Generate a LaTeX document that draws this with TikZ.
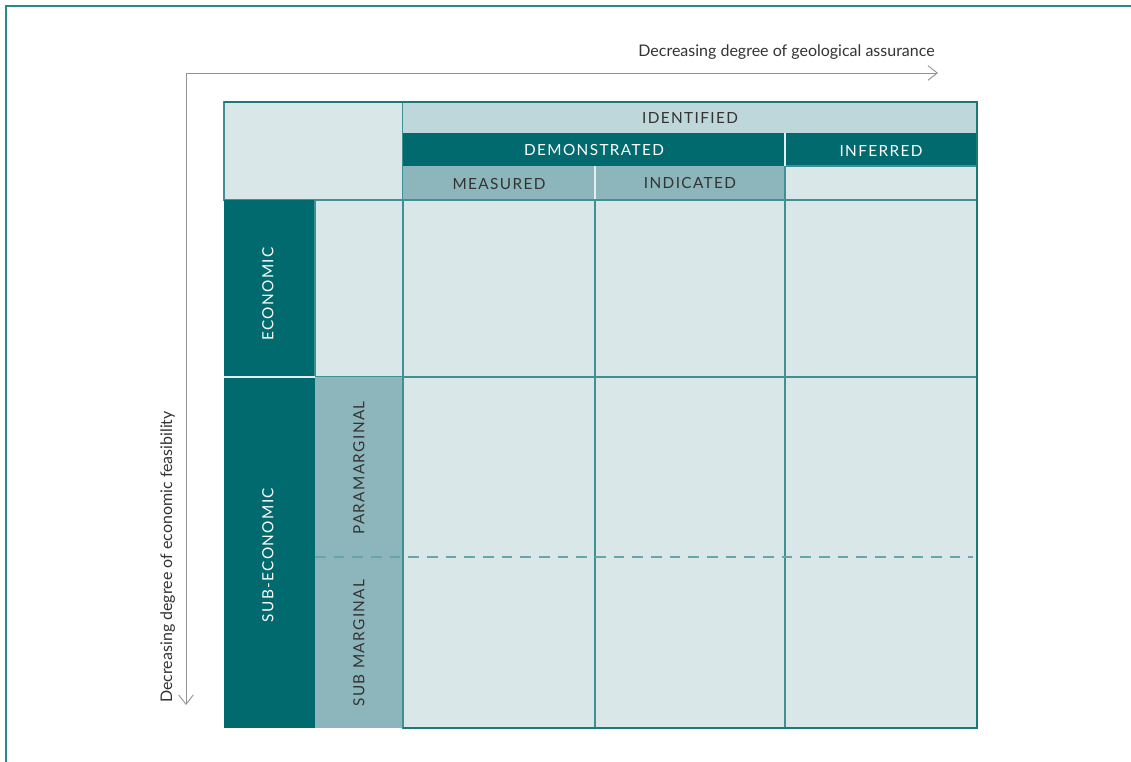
\documentclass[tikz,border=0pt]{standalone}
\usepackage{fontspec}
\setmainfont{Lato}
\newfontfamily\capsfont[LetterSpace=9]{Lato}
\usetikzlibrary{arrows.meta}

\definecolor{tealdark}{HTML}{006A6E}
\definecolor{tealmid}{HTML}{8CB6BB}
\definecolor{teallight}{HTML}{DAE7E8}
\definecolor{tealpale}{HTML}{BDD7DA}
\definecolor{tealline}{HTML}{3E9094}
\definecolor{tealframe}{HTML}{2A8A8A}
\definecolor{textgray}{HTML}{333333}

\begin{document}
\begin{tikzpicture}[x=0.75pt,y=-0.75pt,font=\fontsize{12}{14}\selectfont]
		\tikzstyle{light}=[fill=teallight,draw=tealline,line width=0.9pt]
		\tikzstyle{pale}=[fill=tealpale]
		\tikzstyle{mid}=[fill=tealmid]
		\tikzstyle{dark}=[fill=tealdark]
		\tikzstyle{sepline}=[draw=white!75!tealmid,line width=0.9pt]
		\tikzstyle{captext}=[font={\capsfont\fontsize{11.5}{13}\selectfont},text=textgray,inner sep=0pt]
		\tikzstyle{captextw}=[captext,text=white]
		\tikzstyle{axis}=[draw=gray!85,line width=0.7pt,-{Straight Barb[length=7pt,width=11pt]}]
		\tikzstyle{axislabel}=[text=textgray,inner sep=0pt]
		
		\useasboundingbox (0,0) rectangle (1131,762);
		\draw[tealframe,line width=1.3pt] (6,762) -- (6,6) -- (1131,6);
		
		% axes
		\coordinate (origin) at (186,73);
		\coordinate (xend) at (938,73);
		\coordinate (yend) at (186,705);
		\draw[axis] (origin) -- (xend);
		\draw[axis] (origin) -- (yend);
		\node[axislabel,anchor=base east] (geo) at (935,57) {Decreasing degree of geological assurance};
		\node[axislabel,anchor=base west,rotate=90] (feas) at (172,703) {Decreasing degree of economic feasibility};
		
		% header
		\path[light] (224,102) rectangle (403,200);
		\path[pale] (403,102) rectangle (977,133);
		\path[dark] (403,133) rectangle (785,166);
		\path[dark] (785,133) rectangle (977,166);
		\path[mid] (403,166) rectangle (595,200);
		\path[mid] (595,166) rectangle (785,200);
		\path[light] (785,166) rectangle (977,200);
		\draw[sepline] (595,166) -- (595,200);
		\draw[sepline] (785,133) -- (785,166);
		\node[captext] (ident) at (690,118) {IDENTIFIED};
		\node[captextw] (demo) at (594,150) {DEMONSTRATED};
		\node[captextw] (infer) at (881,151) {INFERRED};
		\node[captext] (meas) at (499,184) {MEASURED};
		\node[captext] (indic) at (690,183) {INDICATED};
		
		% side
		\path[dark] (224,200) rectangle (315,377);
		\path[dark] (224,377) rectangle (315,728);
		\path[light] (315,200) rectangle (403,377);
		\path[mid] (315,377) rectangle (403,557);
		\path[mid] (315,557) rectangle (403,728);
		\draw[sepline] (224,377) -- (315,377);
		\node[captextw,rotate=90] (econ) at (268,294) {ECONOMIC};
		\node[captextw,rotate=90] (subecon) at (268,555) {SUB-ECONOMIC};
		\node[captext,rotate=90] (para) at (359,468) {PARAMARGINAL};
		\node[captext,rotate=90] (submarg) at (359,643) {SUB MARGINAL};
		
		% body
		\foreach \xa/\xb in {403/595,595/785,785/977}
		\foreach \ya/\yb in {200/377,377/728}
		\path[light] (\xa,\ya) rectangle (\xb,\yb);
		\draw[tealline!80,line width=1.2pt,dash pattern=on 8pt off 6pt] (315,557) -- (973,557);
		\draw[tealdark!90,line width=1pt] (224,102) -- (977,102) -- (977,728) -- (403,728);
		
\end{tikzpicture}
\end{document}
